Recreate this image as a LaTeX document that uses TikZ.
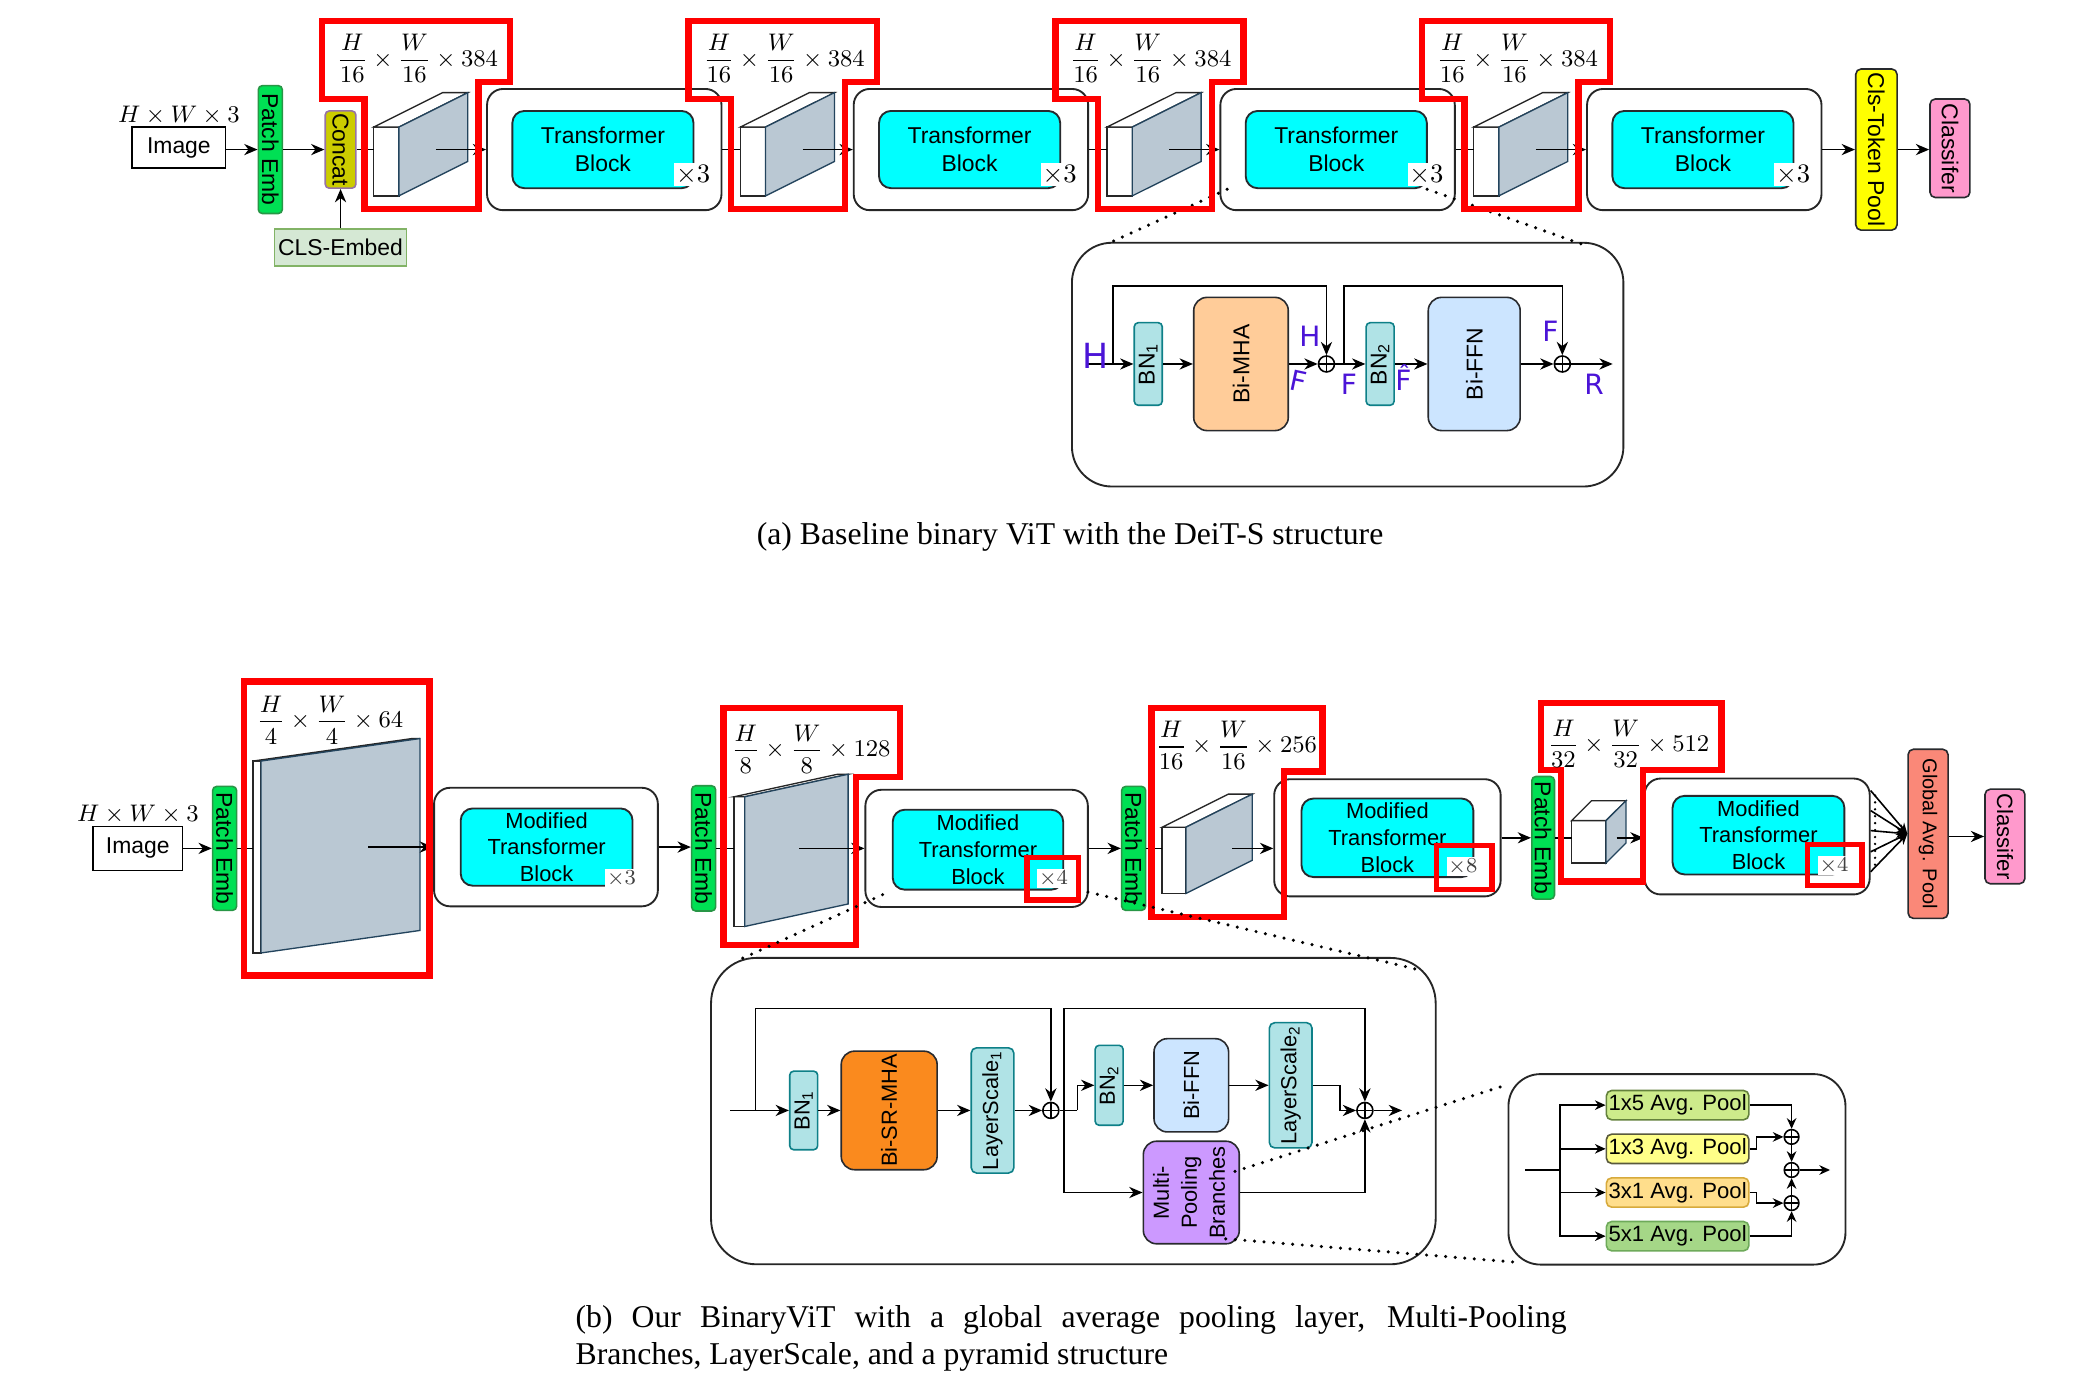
\documentclass[tikz,border=0pt]{standalone}
\usepackage{fontspec}
\setmainfont{Liberation Sans}
\newfontfamily\capfont{Liberation Serif}
\newfontfamily\handfont{DejaVu Sans}
\usetikzlibrary{arrows.meta,calc}

\definecolor{pegreen}{RGB}{0,224,84}
\definecolor{pegreenb}{RGB}{40,150,70}
\definecolor{concatf}{RGB}{204,204,0}
\definecolor{concatb}{RGB}{150,115,166}
\definecolor{clsf}{RGB}{213,232,212}
\definecolor{clsb}{RGB}{130,179,102}
\definecolor{cyanf}{RGB}{0,255,255}
\definecolor{darkb}{RGB}{40,42,46}
\definecolor{cubeg}{RGB}{186,200,211}
\definecolor{cubeb}{RGB}{35,68,93}
\definecolor{tokf}{RGB}{255,255,0}
\definecolor{pinkf}{RGB}{255,153,204}
\definecolor{gapf}{RGB}{250,136,120}
\definecolor{bnf}{RGB}{176,227,230}
\definecolor{bnb}{RGB}{14,128,136}
\definecolor{mhaf}{RGB}{255,204,153}
\definecolor{ffnf}{RGB}{204,229,255}
\definecolor{srf}{RGB}{250,138,30}
\definecolor{mpbf}{RGB}{204,153,255}
\definecolor{pfa}{RGB}{205,235,139}
\definecolor{pfab}{RGB}{100,130,60}
\definecolor{pfb}{RGB}{255,255,136}
\definecolor{pfbb}{RGB}{90,90,60}
\definecolor{pfc}{RGB}{255,222,140}
\definecolor{pfcb}{RGB}{215,170,60}
\definecolor{pfd}{RGB}{165,215,135}
\definecolor{pfdb}{RGB}{110,170,90}
\definecolor{hand}{RGB}{75,20,215}
\definecolor{redbox}{RGB}{255,0,0}

\newcommand{\rotcw}[1]{\rotatebox{-90}{#1}}
\newcommand{\rotccw}[1]{\rotatebox{90}{#1}}
% x y (front top-left), w h (front), dx dy (depth, dy upward)
\newcommand{\cubefig}[6]{%
  \draw[line width=0.5pt, draw=black!85, fill=white] (#1,#2) rectangle (#1+#3,#2+#4);
  \draw[line width=0.5pt, draw=black!85, fill=white] (#1,#2) -- (#1+#5,#2-#6) -- (#1+#3+#5,#2-#6) -- (#1+#3,#2) -- cycle;
  \draw[line width=0.5pt, draw=cubeb, fill=cubeg] (#1+#3,#2) -- (#1+#3+#5,#2-#6) -- (#1+#3+#5,#2+#4-#6) -- (#1+#3,#2+#4) -- cycle;
}

\tikzset{
  blk/.style={draw=darkb, line width=0.6pt, inner sep=0pt, align=center, font=\fontsize{8.6}{10.5}\selectfont},
  blkb/.style={blk, font=\fontsize{8.2}{10.5}\selectfont},
  outerbox/.style={draw=black!85, line width=0.7pt, fill=white, rounded corners=6pt, inner sep=0pt},
  cyanbox/.style={blk, fill=cyanf, rounded corners=4.5pt, line width=0.7pt},
  cyanboxb/.style={cyanbox, font=\fontsize{8.2}{10}\selectfont},
  arr/.style={-{Stealth[length=5pt,width=4.2pt,inset=1.6pt]}, line width=0.6pt},
  sarr/.style={-{Stealth[length=4pt,width=3.6pt,inset=1.3pt]}, line width=0.6pt},
  ln/.style={line width=0.6pt},
  redline/.style={draw=redbox, line width=2.4pt},
  redsmall/.style={draw=redbox, line width=2pt},
  dotln/.style={line width=1.3pt, dash pattern=on 0pt off 3.6pt, line cap=round},
  lbla/.style={inner sep=0pt, font=\fontsize{9.5}{11}\selectfont},
  lblb/.style={inner sep=0pt, font=\fontsize{9.1}{11}\selectfont},
  hw/.style={text=hand, font=\handfont\fontsize{10.5}{11}\selectfont, inner sep=0pt},
  timesa/.style={fill=white, inner sep=0.6pt, font=\fontsize{10}{10}\selectfont},
  timesb/.style={fill=white, inner sep=0.6pt, text=black!75, font=\fontsize{8.5}{9}\selectfont},
  oplus/.style={circle, draw, line width=0.6pt, minimum size=#1, inner sep=0pt, path picture={\draw[line width=0.5pt] (path picture bounding box.north) -- (path picture bounding box.south) (path picture bounding box.west) -- (path picture bounding box.east);}},
  oplus/.default=6pt,
  detail/.style={draw=black!85, line width=0.7pt, inner sep=0pt},
  pool/.style={blkb, font=\fontsize{8.3}{9}\selectfont, rounded corners=2pt, minimum width=53.5pt, minimum height=11pt},
  capst/.style={inner sep=0pt, font=\capfont\fontsize{11.9}{14}\selectfont},
}

\begin{document}
\begin{tikzpicture}[x=0.4974pt,y=-0.4968pt]
\useasboundingbox (0pt,0pt) rectangle (780pt,-523pt);
\fill[white] (0pt,0pt) rectangle (780pt,-523pt);

%================ TOP ROW (a) =================
\node[lbla, font=\fontsize{9.2}{11}\selectfont] (hwa) at (135,87) {$H\times W\times 3$};
\node[blk, fill=white, draw=black, minimum width=35pt, minimum height=15.5pt] (imga) at (135,111.5) {Image};
\node[blk, fill=pegreen, draw=pegreenb, rounded corners=1.5pt, minimum width=9pt, minimum height=48pt] (pea) at (204,113) {\rotcw{Patch Emb}};
\node[blk, fill=concatf, draw=concatb, rounded corners=1.5pt, minimum width=11.5pt, minimum height=29pt] (concat) at (257,113) {\rotcw{Concat}};
\node[blk, fill=clsf, draw=clsb, minimum width=49.5pt, minimum height=14pt] (clsemb) at (257,187) {CLS-Embed};
\node[blk, fill=tokf, rounded corners=2pt, minimum width=15.5pt, minimum height=60.5pt] (clspool) at (1416,113) {\rotcw{Cls-Token Pool}};
\node[blk, fill=pinkf, rounded corners=2pt, minimum width=15pt, minimum height=37pt] (clsfa) at (1471.5,112) {\rotcw{Classifer}};

\foreach \i in {0,1,2,3}{
  \pgfmathsetmacro{\L}{243+276.7*\i}
  \pgfmathsetmacro{\X}{456+276.7*\i}
  \cubefig{\L+39}{96}{19}{52}{52}{26}
  \coordinate (cf\i) at (\L+39,113);
  \coordinate (ci\i) at (\L+86,113);
  \node[outerbox, minimum width=88pt, minimum height=45.5pt] (outa\i) at (\X,113) {};
  \node[cyanbox, minimum width=68pt, minimum height=29pt] (cya\i) at (\X-1,113) {Transformer\\Block};
  \node[timesa] (tma\i) at (\X+67,132) {$\times3$};
  \draw[arr] (ci\i) -- (outa\i.west);
}

\coordinate (ima) at (imga.east |- pea.west);
\draw[arr] (ima) -- (pea.west);
\draw[arr] (pea.east) -- (concat.west);
\draw[arr] (clsemb.north) -- (concat.south);
\draw[ln] (concat.east) -- (cf0);
\foreach \i/\j in {0/1,1/2,2/3}{\draw[ln] (outa\i.east) -- (cf\j);}
\draw[arr] (outa3.east) -- (clspool.west);
\draw[arr] (clspool.east) -- (clspool.east -| clsfa.west);

% detail (a)
\node[detail, rounded corners=15pt, minimum width=207pt, minimum height=91.5pt] (deta) at (1017,275.5) {};
\coordinate (ina) at (820,275);
\coordinate (ska1) at (840,275);
\coordinate (ska2) at (1014,275);
\coordinate (outa) at (1217,275);
\node[blk, fill=bnf, draw=bnb, rounded corners=1.5pt, minimum width=10.5pt, minimum height=31pt] (bn1a) at (866.5,275) {\rotccw{BN\textsubscript{1}}};
\node[blk, fill=mhaf, rounded corners=5pt, minimum width=35.5pt, minimum height=50pt] (mha) at (936.5,275) {\rotccw{Bi-MHA}};
\node[oplus] (pa1) at (1001,275) {};
\node[blk, fill=bnf, draw=bnb, rounded corners=1.5pt, minimum width=10.5pt, minimum height=31pt] (bn2a) at (1041.5,275) {\rotccw{BN\textsubscript{2}}};
\node[blk, fill=ffnf, rounded corners=5pt, minimum width=34.5pt, minimum height=50pt] (ffna) at (1112.5,275) {\rotccw{Bi-FFN}};
\node[oplus] (pa2) at (1179,275) {};

\draw[ln] (ina) -- (ska1);
\draw[arr] (ska1) -- (bn1a.west);
\draw[arr] (ska1) -- (840,216) -| (pa1.north);
\draw[arr] (bn1a.east) -- (mha.west);
\draw[arr] (mha.east) -- (pa1.west);
\draw[ln] (pa1.east) -- (ska2);
\draw[arr] (ska2) -- (bn2a.west);
\draw[arr] (ska2) -- (1014,216) -| (pa2.north);
\draw[arr] (bn2a.east) -- (ffna.west);
\draw[arr] (ffna.east) -- (pa2.west);
\draw[arr] (pa2.east) -- (outa);

\node[hw, font=\handfont\fontsize{13}{13}\selectfont] (hH1) at (827,269) {H};
\node[hw] (hH2) at (988.5,254) {H};
\node[hw, rotate=-12] (hF1) at (980,288) {F};
\node[hw] (hF2) at (1018,290) {F};
\node[hw] (hF3) at (1059,285) {\^{F}};
\node[hw] (hF4) at (1170,250) {F};
\node[hw] (hR) at (1203,290) {R};

\coordinate (da1) at (926,143); \coordinate (da2) at (834,185);
\coordinate (da3) at (1077,143); \coordinate (da4) at (1198,186);
\draw[dotln] (da1) -- (da2);
\draw[dotln] (da3) -- (da4);

\foreach \i in {0,1,2,3}{
  \pgfmathsetmacro{\L}{243+276.7*\i}
  \draw[redline] (\L,16) -- (\L+142,16) -- (\L+142,62) -- (\L+118,62) -- (\L+118,158) -- (\L+32,158) -- (\L+32,75) -- (\L,75) -- cycle;
  \node[lbla] (lba\i) at (\L+72,44) {$\displaystyle\frac{H}{16}\times\frac{W}{16}\times 384$};
}

\node[capst] (capa) at (807.5,406) {(a) Baseline binary ViT with the DeiT-S structure};

%================ BOTTOM ROW (b) =================
\node[lblb, font=\fontsize{9.2}{11}\selectfont] (hwb) at (104,615) {$H\times W\times 3$};
\node[blk, fill=white, draw=black, minimum width=33.5pt, minimum height=16.5pt] (imgb) at (104,641) {Image};
\node[blk, fill=pegreen, draw=pegreenb, rounded corners=1.5pt, minimum width=9pt, minimum height=46.5pt] (pe1b) at (169.5,641) {\rotcw{Patch Emb}};
\cubefig{191}{575}{6}{145}{120}{17}
\coordinate (sf1) at (191,641);
\coordinate (si1) at (278,640);
\node[outerbox, minimum width=84pt, minimum height=44.5pt] (outb1) at (412,640) {};
\node[cyanboxb, minimum width=64.5pt, minimum height=29pt] (cyb1) at (412.5,640) {Modified\\Transformer\\Block};
\node[timesb] (tmb1) at (469,664) {$\times3$};

\node[blk, fill=pegreen, draw=pegreenb, rounded corners=1.5pt, minimum width=9pt, minimum height=47pt] (pe2b) at (531,641) {\rotcw{Patch Emb}};
\cubefig{554}{602}{8}{98}{78}{17}
\coordinate (sf2) at (554,641);
\coordinate (si2) at (603,641);
\node[outerbox, minimum width=83.5pt, minimum height=44pt] (outb2) at (737,641) {};
\node[cyanboxb, minimum width=64pt, minimum height=30pt] (cyb2) at (738,642) {Modified\\Transformer\\Block};
\node[timesb] (tmb2) at (795,664) {$\times4$};

\node[blk, fill=pegreen, draw=pegreenb, rounded corners=1.5pt, minimum width=9pt, minimum height=46.5pt] (pe3b) at (855.5,641) {\rotcw{Patch Emb}};
\cubefig{877}{625}{18}{50}{50}{25}
\coordinate (sf3) at (877,641);
\coordinate (si3) at (930,641);
\node[outerbox, minimum width=85pt, minimum height=44pt] (outb3) at (1047,633) {};
\node[cyanboxb, minimum width=64.5pt, minimum height=29.5pt] (cyb3) at (1047,633) {Modified\\Transformer\\Block};
\node[timesb] (tmb3) at (1104,655) {$\times8$};

\node[blk, fill=pegreen, draw=pegreenb, rounded corners=1.5pt, minimum width=8.5pt, minimum height=46pt] (pe4b) at (1164.5,633) {\rotcw{Patch Emb}};
\cubefig{1186}{620}{26}{32}{15}{15}
\coordinate (sf4) at (1186,633);
\coordinate (si4) at (1220,633);
\node[outerbox, minimum width=84.5pt, minimum height=43.5pt] (outb4) at (1326,632) {};
\node[cyanboxb, minimum width=64.5pt, minimum height=29.5pt] (cyb4) at (1327,631) {Modified\\Transformer\\Block};
\node[timesb] (tmb4) at (1384,654) {$\times4$};

\node[blk, fill=gapf, rounded corners=2pt, minimum width=15pt, minimum height=63.5pt, font=\fontsize{7.5}{9}\selectfont] (gap) at (1455,630) {\rotcw{Global Avg. Pool}};
\node[blk, fill=pinkf, rounded corners=2pt, minimum width=15pt, minimum height=35.5pt, font=\fontsize{8.3}{9}\selectfont] (clsfb) at (1513,632) {\rotcw{Classifer}};

\draw[arr] (imgb.east) -- (pe1b.west);
\draw[ln] (pe1b.east) -- (sf1);
\draw[arr] (si1) -- (si1 -| outb1.west);
\draw[arr] (outb1.east) -- (outb1.east -| pe2b.west);
\draw[ln] (pe2b.east) -- (sf2);
\draw[arr] (si2) -- (si2 -| outb2.west);
\draw[arr] (outb2.east) -- (outb2.east -| pe3b.west);
\draw[ln] (pe3b.east) -- (sf3);
\draw[arr] (si3) -- (si3 -| outb3.west);
\draw[arr] (outb3.east) -- (outb3.east -| pe4b.west);
\draw[ln] (pe4b.east) -- (sf4);
\draw[arr] (si4) -- (si4 -| outb4.west);
\foreach \f in {0.11,0.28,0.45,0.63,0.80}{
  \draw[sarr] ($(outb4.north east)!\f!(outb4.south east)$) -- (gap.west);
}
\draw[line width=1pt, dash pattern=on 0pt off 2.6pt, line cap=round] (1415,601) -- (1415,658);
\draw[arr] (gap.east |- clsfb.west) -- (clsfb.west);

% red outlines bottom
\draw[redline] (184,515) rectangle (324,737);
\node[lblb] (lbb1) at (249,544) {$\displaystyle\frac{H}{4}\times\frac{W}{4}\times 64$};
\draw[redline] (546,535) -- (679,535) -- (679,587) -- (646,587) -- (646,714) -- (546,714) -- cycle;
\node[lblb] (lbb2) at (612,566) {$\displaystyle\frac{H}{8}\times\frac{W}{8}\times 128$};
\draw[redline] (869,535) -- (998,535) -- (998,583) -- (969,583) -- (969,693) -- (869,693) -- cycle;
\node[lblb] (lbb3) at (933,563) {$\displaystyle\frac{H}{16}\times\frac{W}{16}\times 256$};
\draw[redline] (1163,531) -- (1299,531) -- (1299,582) -- (1240,582) -- (1240,666) -- (1178,666) -- (1178,582) -- (1163,582) -- cycle;
\node[lblb] (lbb4) at (1229,562) {$\displaystyle\frac{H}{32}\times\frac{W}{32}\times 512$};
\draw[redsmall] (775,648) rectangle (814,680);
\draw[redsmall] (1084,639) rectangle (1126,672);
\draw[redsmall] (1364,638) rectangle (1405,669);

% detail (b)
\node[detail, rounded corners=17pt, minimum width=272pt, minimum height=115pt] (detb) at (810,839.5) {};
\coordinate (inb) at (551,839);
\coordinate (skb1) at (570,839);
\coordinate (skb2) at (803,839);
\coordinate (stepb) at (813,839);
\coordinate (outbb) at (1058,839);
\node[blkb, fill=bnf, draw=bnb, rounded corners=1.5pt, minimum width=10.5pt, minimum height=29.5pt] (bn1b) at (606.5,839) {\rotccw{BN\textsubscript{1}}};
\node[blkb, fill=srf, rounded corners=5pt, minimum width=36pt, minimum height=44.5pt] (srmha) at (671,839) {\rotccw{Bi-SR-MHA}};
\node[blkb, fill=bnf, draw=bnb, rounded corners=2pt, minimum width=16pt, minimum height=47pt] (ls1) at (749,839) {\rotccw{LayerScale\textsubscript{1}}};
\node[oplus] (pb1) at (793,839) {};
\node[blkb, fill=bnf, draw=bnb, rounded corners=1.5pt, minimum width=10.5pt, minimum height=30pt] (bn2b) at (837,820) {\rotccw{BN\textsubscript{2}}};
\node[blkb, fill=ffnf, rounded corners=5pt, minimum width=28pt, minimum height=35pt] (ffnb) at (899,820) {\rotccw{Bi-FFN}};
\node[blkb, fill=bnf, draw=bnb, rounded corners=2pt, minimum width=16pt, minimum height=47pt] (ls2) at (974,820) {\rotccw{LayerScale\textsubscript{2}}};
\node[oplus] (pb2) at (1030,839) {};
\node[blkb, fill=mpbf, rounded corners=5pt, minimum width=36pt, minimum height=38.5pt] (mpb) at (899,901) {\rotccw{\begin{tabular}{@{}c@{}}Multi-\\Pooling\\Branches\end{tabular}}};

\draw[ln] (inb) -- (skb1);
\draw[arr] (skb1) -- (bn1b.west);
\draw[arr] (skb1) -- (570,762) -| (pb1.north);
\draw[arr] (bn1b.east) -- (srmha.west);
\draw[arr] (srmha.east) -- (ls1.west);
\draw[arr] (ls1.east) -- (pb1.west);
\draw[ln] (pb1.east) -- (stepb);
\draw[arr] (stepb) |- (bn2b.west);
\draw[arr] (skb2) -- (803,762) -| (pb2.north);
\draw[arr] (skb2) |- (mpb.west);
\draw[arr] (bn2b.east) -- (ffnb.west);
\draw[arr] (ffnb.east) -- (ls2.west);
\draw[arr] (ls2.east) -- (1011,820) |- (pb2.west);
\draw[arr] (mpb.east) -| (pb2.south);
\draw[arr] (pb2.east) -- (outbb);

% dotted (b)
\coordinate (db1) at (666,676); \coordinate (db2) at (556,726);
\coordinate (db3) at (821,674); \coordinate (db4) at (1072,733);
\draw[dotln] (db1) -- (db2);
\draw[dotln] (db3) -- (db4);
\coordinate (dc1) at (932,885); \coordinate (dc2) at (1136,820);
\coordinate (dc3) at (925,936); \coordinate (dc4) at (1148,954);
\draw[dotln] (dc1) -- (dc2);
\draw[dotln] (dc3) -- (dc4);

% pooling detail
\node[detail, rounded corners=12pt, minimum width=126.5pt, minimum height=71.5pt] (poolbox) at (1265.5,883.5) {};
\coordinate (pin) at (1151,884);
\coordinate (ptr) at (1177,884);
\coordinate (pout) at (1381,884);
\node[pool, fill=pfa, draw=pfab] (p15) at (1266,835) {1x5 Avg. Pool};
\node[pool, fill=pfb, draw=pfbb] (p13) at (1266,868) {1x3 Avg. Pool};
\node[pool, fill=pfc, draw=pfcb] (p31) at (1266,901) {3x1 Avg. Pool};
\node[pool, fill=pfd, draw=pfdb] (p51) at (1266,934) {5x1 Avg. Pool};
\node[oplus=5.5pt] (pqa) at (1352,859) {};
\node[oplus=5.5pt] (pqb) at (1352,884) {};
\node[oplus=5.5pt] (pqc) at (1352,909) {};
\draw[ln] (pin) -- (ptr);
\draw[sarr] (ptr) |- (p15.west);
\draw[sarr] (ptr) |- (p13.west);
\draw[sarr] (ptr) |- (p31.west);
\draw[sarr] (ptr) |- (p51.west);
\draw[sarr] (p15.east) -| (pqa.north);
\draw[sarr] (p13.east) -- ++(5,0) |- (pqa.west);
\draw[sarr] (pqa.south) -- (pqb.north);
\draw[sarr] (p31.east) -- ++(5,0) |- (pqc.west);
\draw[sarr] (p51.east) -| (pqc.south);
\draw[sarr] (pqc.north) -- (pqb.south);
\draw[sarr] (pqb.east) -- (pout);

% caption (b)
\node[capst, anchor=base west] (capb1) at (434,1003) {\makebox[372pt][s]{(b) Our BinaryViT with a global average pooling layer, Multi-Pooling}};
\node[capst, anchor=base west] (capb2) at (434,1031) {Branches, LayerScale, and a pyramid structure};
\end{tikzpicture}
\end{document}
